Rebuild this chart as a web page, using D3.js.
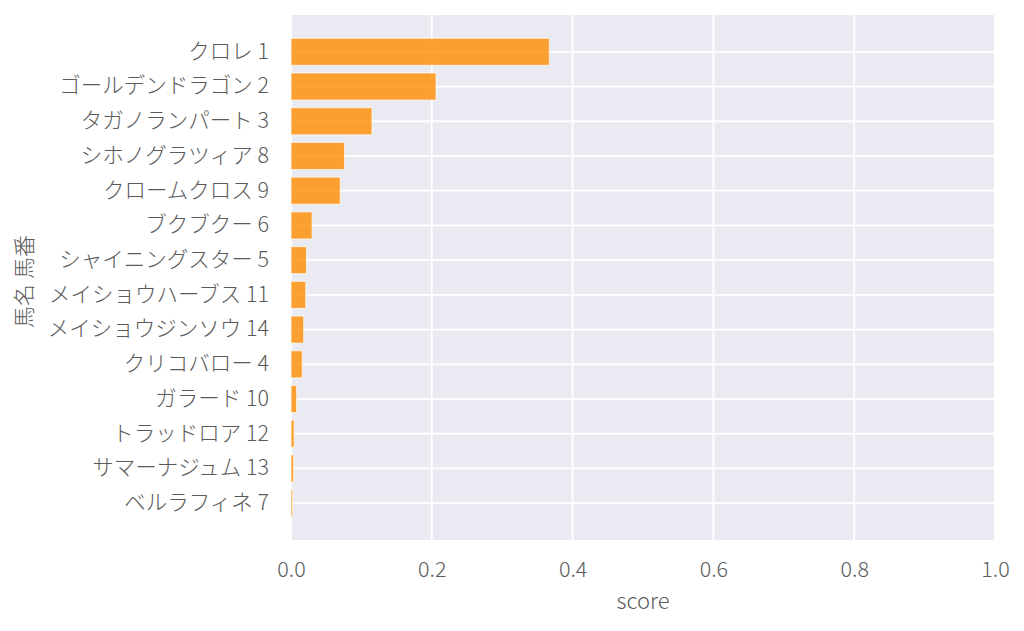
<!DOCTYPE html>
<html>
<head>
<meta charset="utf-8">
<script src="https://cdn.jsdelivr.net/npm/d3@7"></script>
<style>
  body { margin: 0; background: #fff; }
  text { font-family: "Noto Sans CJK JP Light", "Noto Sans CJK JP", "Noto Sans", sans-serif; font-weight: 200; fill: #5a5a5a; }
  .axis .domain { display: none; }
</style>
</head>
<body>
<script>
//Chart data
const horses = ["クロレ", "ゴールデンドラゴン", "タガノランパート", "シホノグラツィア", "クロームクロス",
  "ブクブクー", "シャイニングスター", "メイショウハーブス", "メイショウジンソウ", "クリコバロー",
  "ガラード", "トラッドロア", "サマーナジュム", "ベルラフィネ"];
const numbers = [1, 2, 3, 8, 9, 6, 5, 11, 14, 4, 10, 12, 13, 7];
const scores = [0.367, 0.206, 0.115, 0.076, 0.070, 0.030, 0.022, 0.021, 0.018, 0.016, 0.008, 0.0045, 0.0037, 0.0023];
const xTicks = [0, 0.2, 0.4, 0.6, 0.8, 1.0];

const width = 1024;
const height = 631;
const plot = { left: 291, right: 995, top: 15, bottom: 540 };
const fontFam = "'Noto Sans CJK JP Light', 'Noto Sans CJK JP', sans-serif";

const labels = horses.map((h, i) => h + " " + numbers[i]);
const data = labels.map((l, i) => ({ label: l, score: scores[i] }));

const svg = d3.select("body").append("svg")
  .attr("width", width)
  .attr("height", height);

//Scales
const xScale = d3.scaleLinear()
  .domain([0, 1])
  .range([plot.left, plot.right]);

const yScale = d3.scaleBand()
  .domain(labels)
  .range([plot.top, plot.bottom])
  .paddingInner(0.22)
  .paddingOuter(0.67);

//Plot background
svg.append("rect")
  .attr("x", plot.left)
  .attr("y", plot.top)
  .attr("width", plot.right - plot.left)
  .attr("height", plot.bottom - plot.top)
  .attr("fill", "#eaeaf2");

//Grid lines
svg.append("g").selectAll("line")
  .data(xTicks)
  .join("line")
  .attr("x1", d => xScale(d)).attr("x2", d => xScale(d))
  .attr("y1", plot.top).attr("y2", plot.bottom)
  .attr("stroke", "#fff")
  .attr("stroke-width", 1.8);

svg.append("g").selectAll("line")
  .data(labels)
  .join("line")
  .attr("x1", plot.left).attr("x2", plot.right)
  .attr("y1", d => yScale(d) + yScale.bandwidth() / 2)
  .attr("y2", d => yScale(d) + yScale.bandwidth() / 2)
  .attr("stroke", "#fff")
  .attr("stroke-width", 1.8);

//Bars
svg.append("g").selectAll("rect")
  .data(data)
  .join("rect")
  .attr("x", xScale(0))
  .attr("y", d => yScale(d.label))
  .attr("width", d => xScale(d.score) - xScale(0))
  .attr("height", yScale.bandwidth())
  .attr("fill", "darkorange")
  .attr("fill-opacity", 0.8)
  .attr("stroke", "#fff")
  .attr("stroke-opacity", 0.6)
  .attr("stroke-width", 1.2);

//Axes
const bottomAxis = d3.axisBottom(xScale)
  .tickValues(xTicks)
  .tickFormat(d3.format(".1f"))
  .tickSize(0)
  .tickPadding(22);

svg.append("g")
  .attr("class", "axis")
  .attr("transform", "translate(0," + plot.bottom + ")")
  .call(bottomAxis)
  .selectAll("text")
  .style("font-size", "21.5px")
  .style("font-family", fontFam);

const leftAxis = d3.axisLeft(yScale)
  .tickSize(0)
  .tickPadding(22);

svg.append("g")
  .attr("class", "axis")
  .attr("transform", "translate(" + plot.left + ",0)")
  .call(leftAxis)
  .selectAll("text")
  .style("font-size", "21.5px")
  .style("font-family", fontFam);

//Axis labels
svg.append("text")
  .attr("x", (plot.left + plot.right) / 2)
  .attr("y", 603)
  .attr("text-anchor", "middle")
  .attr("dominant-baseline", "middle")
  .style("font-size", "22px")
  .text("score");

svg.append("text")
  .attr("transform", "translate(26," + ((plot.top + plot.bottom) / 2 + 4) + ") rotate(-90)")
  .attr("text-anchor", "middle")
  .attr("dominant-baseline", "middle")
  .style("font-size", "22px")
  .text("馬名 馬番");
</script>
</body>
</html>
